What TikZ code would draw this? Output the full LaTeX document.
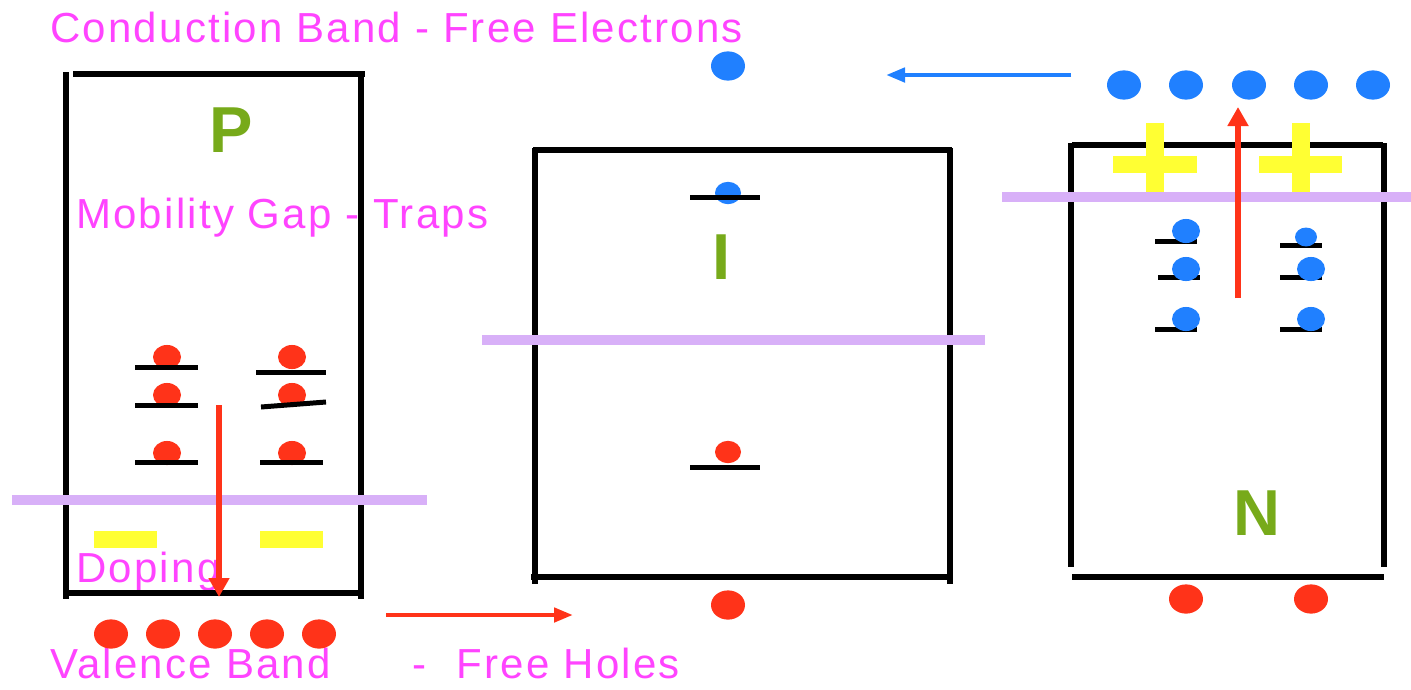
\documentclass[tikz,border=0pt]{standalone}
\usepackage{fontspec}
\setmainfont{Liberation Sans}[LetterSpace=5.3]
\usetikzlibrary{arrows.meta}
\definecolor{mag}{HTML}{FF44FF}
\definecolor{grn}{HTML}{77AA1A}
\definecolor{rd}{HTML}{FF3319}
\definecolor{bl}{HTML}{2080FF}
\definecolor{yl}{HTML}{FFFF33}
\definecolor{lav}{HTML}{D8B0F8}
\tikzset{
  lbl/.style={text=mag,font=\fontsize{42}{46}\selectfont,inner sep=0pt,anchor=base west},
  letter/.style={text=grn,font=\fontsize{65}{70}\selectfont\bfseries,inner sep=0pt},
  wall/.style={line width=6pt,black},
  lvl/.style={line width=5pt,black},
  gap/.style={line width=10pt,lav},
  redarr/.style={rd,line width=6pt,-{Triangle[length=19pt,width=20pt]}},
  harr/.style={line width=4.5pt,-{Triangle[length=19pt,width=14pt]}},
}
\newcommand{\rdot}[3]{\fill[rd] (#1,#2) ellipse [x radius=#3pt,y radius=#3pt*0.86];}
\newcommand{\bdot}[3]{\fill[bl] (#1,#2) ellipse [x radius=#3pt,y radius=#3pt*0.86];}
\begin{document}
\begin{tikzpicture}[x=1pt,y=-1pt]
\useasboundingbox (0,0) rectangle (1411,689);
% texts
\node[lbl] (cb) at (50,42) {Conduction Band - Free Electrons};
\node[lbl] (mg) at (76,228) {Mobility Gap - Traps};
\node[lbl] (dp) at (76,582) {Doping};
\node[lbl] (vb) at (50,678) {Valence Band\hspace{82pt}-\hspace{30pt}Free Holes};
% P box
\draw[wall] (66,72) -- (66,599);
\draw[wall] (73,74) -- (365,74);
\draw[wall] (361,74) -- (361,599);
\draw[wall] (66,593) -- (361,593);
\node[letter] (P) at (231,130) {P};
% traps P
\rdot{167}{357}{14}
\rdot{167}{395}{14}
\rdot{167}{453}{14}
\rdot{292}{357}{14}
\rdot{292}{395}{14}
\rdot{292}{453}{14}
\draw[lvl] (135,367) -- (198,367);
\draw[lvl] (135,405) -- (198,405);
\draw[lvl] (135,462) -- (198,462);
\draw[lvl] (256,372) -- (326,372);
\draw[lvl] (261,407) -- (326,402);
\draw[lvl] (260,462) -- (323,462);
\fill[yl] (94,531) rectangle (157,548);
\fill[yl] (260,531) rectangle (323,548);
\draw[gap] (12,500) -- (427,500);
\coordinate (pa1) at (219,405);
\coordinate (pa2) at (219,597);
\draw[redarr] (pa1) -- (pa2);
% bottom red dots
\foreach \x in {111,163,215,267,319} {\rdot{\x}{634}{17}}
\coordinate (ha1) at (386,615);
\coordinate (ha2) at (573,615);
\draw[harr,rd] (ha1) -- (ha2);
% I box
\draw[wall] (535,148) -- (535,584);
\draw[wall] (533,150) -- (952,150);
\draw[wall] (950,148) -- (950,584);
\draw[wall] (531,577) -- (950,577);
\node[letter] (I) at (722,257) {I};
\bdot{728}{193}{13}
\draw[lvl] (690,197) -- (760,197);
\rdot{728}{452}{13}
\draw[lvl] (690,467) -- (760,467);
\draw[gap] (482,340) -- (985,340);
\bdot{728}{66}{17}
\rdot{728}{605}{17}
% blue arrow
\coordinate (ba1) at (1071,75);
\coordinate (ba2) at (886,75);
\draw[harr,bl] (ba1) -- (ba2);
% N box
\foreach \x in {1124,1186,1249,1311,1373} {\bdot{\x}{85}{17}}
\draw[wall] (1071,143) -- (1071,567);
\draw[wall] (1072,145) -- (1383,145);
\draw[wall] (1384,143) -- (1384,567);
\draw[wall] (1072,577) -- (1384,577);
\node[letter] (N) at (1257,513) {N};
\rdot{1186}{599}{17}
\rdot{1311}{599}{17}
\fill[yl] (1146,123) rectangle (1164,200);
\fill[yl] (1113,156) rectangle (1197,173);
\fill[yl] (1292,123) rectangle (1310,200);
\fill[yl] (1259,156) rectangle (1342,173);
\draw[gap] (1002,197) -- (1411,197);
\draw[lvl] (1155,241) -- (1197,241);
\draw[lvl] (1158,277) -- (1200,277);
\draw[lvl] (1155,329) -- (1197,329);
\draw[lvl] (1280,245) -- (1322,245);
\draw[lvl] (1280,277) -- (1322,277);
\draw[lvl] (1280,329) -- (1322,329);
\bdot{1186}{231}{14}
\bdot{1186}{269}{14}
\bdot{1186}{319}{14}
\bdot{1306}{237}{11}
\bdot{1311}{269}{14}
\bdot{1311}{319}{14}
\coordinate (ua1) at (1238,298);
\coordinate (ua2) at (1238,107);
\draw[redarr] (ua1) -- (ua2);
\end{tikzpicture}
\end{document}
